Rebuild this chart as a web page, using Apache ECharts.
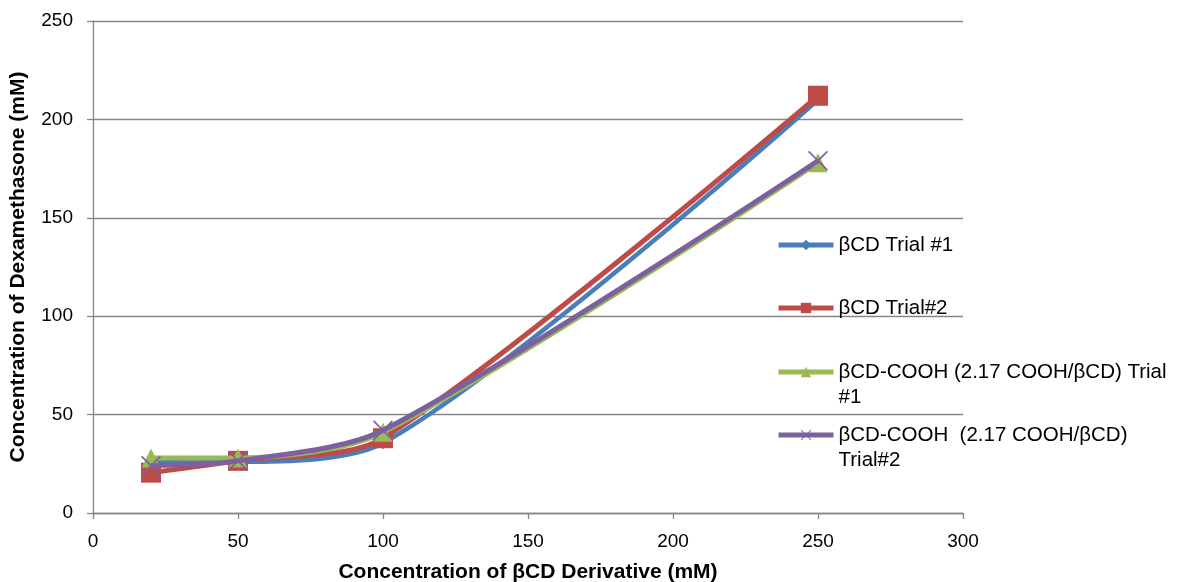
<!DOCTYPE html>
<html>
<head>
<meta charset="utf-8">
<script src="https://cdn.jsdelivr.net/npm/echarts@6/dist/echarts.min.js"></script>
<style>
  html, body { margin: 0; padding: 0; background: #fff; }
  #chart { width: 1182px; height: 582px; }
</style>
</head>
<body>
<div id="chart"></div>
<script>
// βCD derivative concentration (mM) at which dexamethasone solubility was measured
const cdConc = [20, 50, 100, 250];

// Dissolved dexamethasone (mM) per trial
const bcdTrial1 = [26, 26, 35.5, 210];
const bcdTrial2 = [20.5, 26.5, 38, 212];
const cooh1 = [28, 28, 41, 178];
const cooh2 = [24, 26.5, 42, 179];

const seriesNames = [
  'βCD Trial #1',
  'βCD Trial#2',
  'βCD-COOH (2.17 COOH/βCD) Trial\n#1',
  'βCD-COOH  (2.17 COOH/βCD)\nTrial#2'
];

const xTicks = [0, 50, 100, 150, 200, 250, 300];
const yTicks = [0, 50, 100, 150, 200, 250];

const colors = ['#4A7EBB', '#BE4B48', '#98B954', '#7D60A0'];
const fontFamily = '"Liberation Sans", Arial, sans-serif';

// Thin diagonal cross used as the marker of the last series
const crossPath = 'path://M0,1.2 L1.2,0 L10,8.8 L18.8,0 L20,1.2 L11.2,10 L20,18.8 L18.8,20 L10,11.2 L1.2,20 L0,18.8 L8.8,10 Z';

const pairs = (ys) => cdConc.map((x, i) => [x, ys[i]]);
const values = [bcdTrial1, bcdTrial2, cooh1, cooh2];
const symbols = ['diamond', 'rect', 'triangle', crossPath];
const symbolSizes = [12, 20, 19, 20];
const lineWidths = [4.5, 5, 5, 5];

const series = values.map((v, i) => ({
  name: seriesNames[i],
  type: 'line',
  data: pairs(v),
  smooth: 0.28,
  symbol: symbols[i],
  symbolSize: symbolSizes[i],
  showSymbol: true,
  lineStyle: { color: colors[i], width: lineWidths[i] },
  itemStyle: { color: colors[i], borderWidth: 0 },
  z: 2 + i,
  animation: false
}));

// One legend block per series so each entry sits on its own row;
// two-line labels get a leading blank line so the key lines up with the first line
const legendCenters = [245, 308, 372, 435];
const LH = 25;
const legends = seriesNames.map((n, i) => {
  const twoLines = n.indexOf('\n') >= 0;
  return {
    data: [n],
    left: 776,
    top: legendCenters[i] - (twoLines ? 1.5 * LH : 0.5 * LH),
    orient: 'vertical',
    itemWidth: 55,
    itemHeight: 13,
    itemGap: 0,
    padding: 0,
    selectedMode: false,
    formatter: (name) => (name.indexOf('\n') >= 0 ? '\n' + name : name),
    lineStyle: { width: 5 },
    textStyle: {
      fontFamily: fontFamily,
      fontSize: 20.5,
      color: '#000',
      lineHeight: LH
    }
  };
});

const chart = echarts.init(document.getElementById('chart'), null, { renderer: 'canvas' });
chart.setOption({
  animation: false,
  color: colors,
  grid: {
    left: 93, right: 219, top: 21, bottom: 69,
    containLabel: false,
    outerBoundsMode: 'none'
  },
  legend: legends,
  xAxis: {
    type: 'value',
    min: xTicks[0],
    max: xTicks[xTicks.length - 1],
    interval: 50,
    name: 'Concentration of βCD Derivative (mM)',
    nameLocation: 'middle',
    nameGap: 49,
    nameTextStyle: { fontFamily: fontFamily, fontSize: 21, fontWeight: 'bold', color: '#000' },
    axisLine: { show: true, lineStyle: { color: '#868686', width: 1.3 } },
    axisTick: { show: true, inside: false, length: 6, lineStyle: { color: '#868686', width: 1.3 } },
    axisLabel: { fontFamily: fontFamily, fontSize: 19, color: '#000', margin: 19 },
    splitLine: { show: false }
  },
  yAxis: {
    type: 'value',
    min: yTicks[0],
    max: yTicks[yTicks.length - 1],
    interval: 50,
    name: 'Concentration of Dexamethasone (mM)',
    nameLocation: 'middle',
    nameGap: 64,
    nameTextStyle: { fontFamily: fontFamily, fontSize: 21, fontWeight: 'bold', color: '#000' },
    axisLine: { show: true, lineStyle: { color: '#868686', width: 1.3 } },
    axisTick: { show: true, inside: false, length: 6, lineStyle: { color: '#868686', width: 1.3 } },
    axisLabel: { fontFamily: fontFamily, fontSize: 19, color: '#000', margin: 20 },
    splitLine: { show: true, lineStyle: { color: '#868686', width: 1.3 } }
  },
  series: series
});
</script>
</body>
</html>
